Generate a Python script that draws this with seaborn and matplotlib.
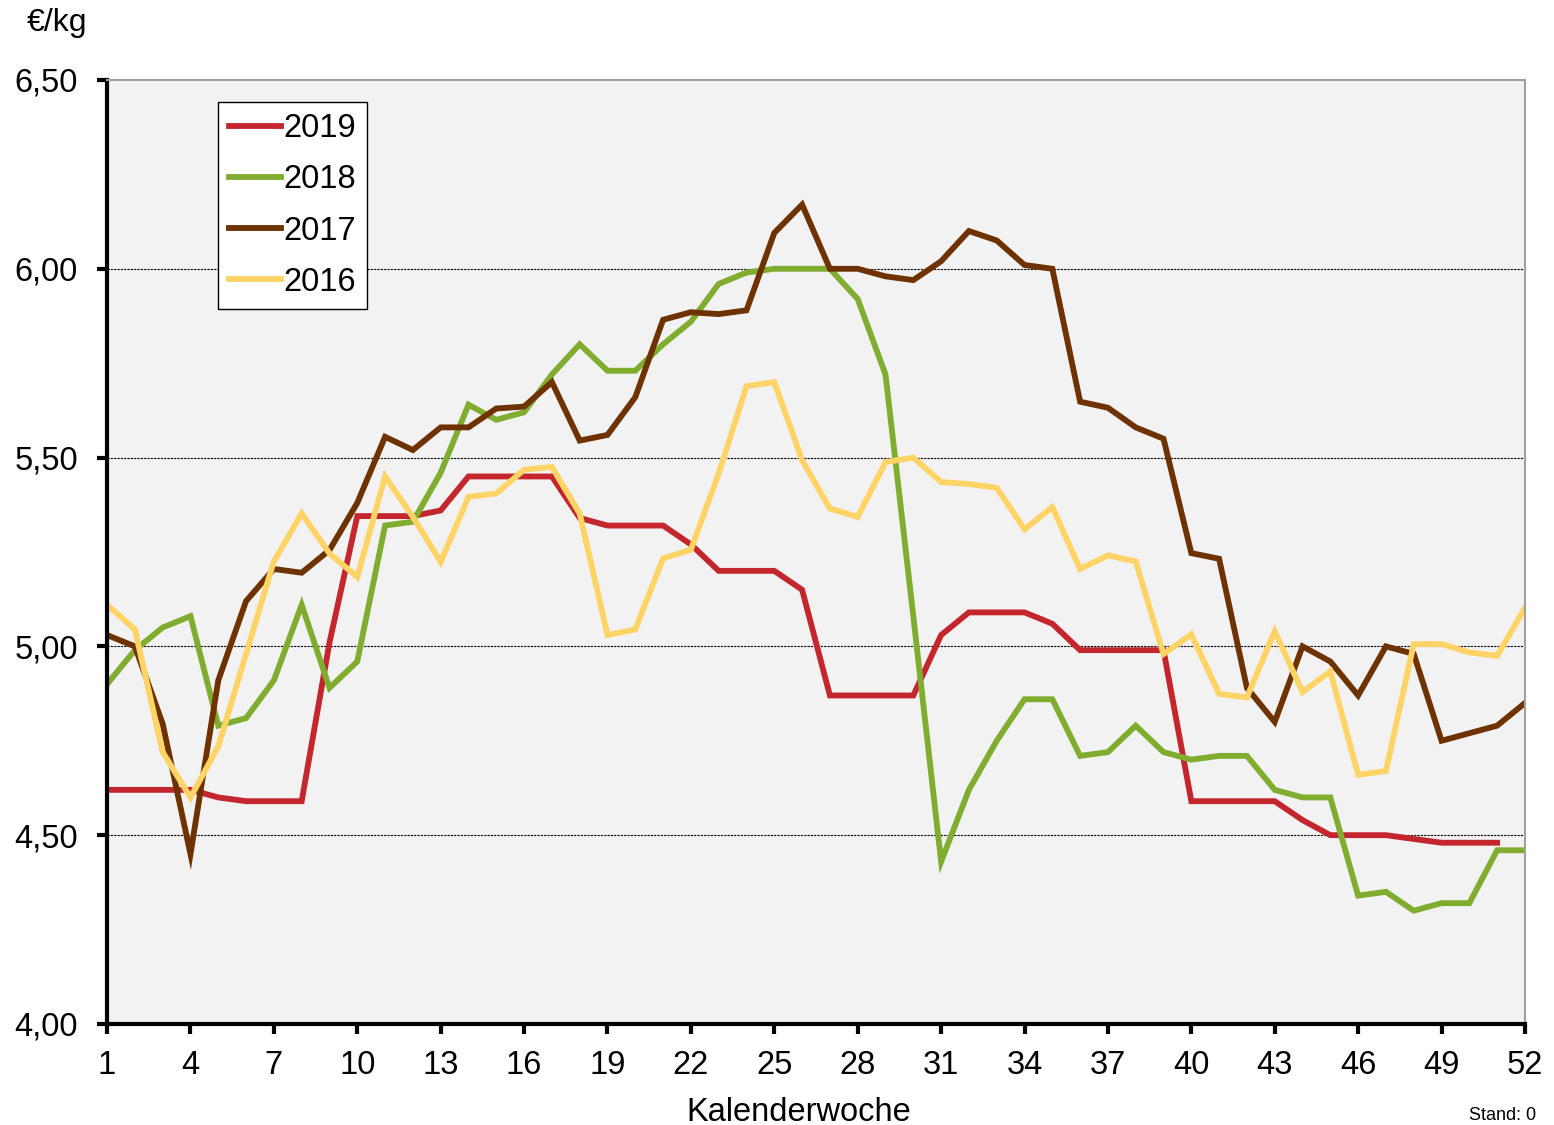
import numpy as np
import pandas as pd
import matplotlib
matplotlib.use("Agg")
import matplotlib.pyplot as plt
from matplotlib.ticker import FuncFormatter
import seaborn as sns

# weekly prices in EUR/kg
weeks = list(range(1, 53))

y2019 = [4.62, 4.62, 4.62, 4.62, 4.60, 4.59, 4.59, 4.59, 5.01, 5.345,
         5.345, 5.345, 5.36, 5.45, 5.45, 5.45, 5.45, 5.34, 5.32, 5.32,
         5.32, 5.27, 5.20, 5.20, 5.20, 5.15, 4.87, 4.87, 4.87, 4.87,
         5.03, 5.09, 5.09, 5.09, 5.06, 4.99, 4.99, 4.99, 4.99, 4.59,
         4.59, 4.59, 4.59, 4.54, 4.50, 4.50, 4.50, 4.49, 4.48, 4.48,
         4.48, np.nan]

y2018 = [4.90, 4.99, 5.05, 5.08, 4.79, 4.81, 4.91, 5.11, 4.89, 4.96,
         5.32, 5.33, 5.46, 5.64, 5.60, 5.62, 5.72, 5.80, 5.73, 5.73,
         5.80, 5.86, 5.96, 5.99, 6.00, 6.00, 6.00, 5.92, 5.72, 5.08,
         4.43, 4.62, 4.75, 4.86, 4.86, 4.71, 4.72, 4.79, 4.72, 4.70,
         4.71, 4.71, 4.62, 4.60, 4.60, 4.34, 4.35, 4.30, 4.32, 4.32,
         4.46, 4.46]

y2017 = [5.03, 5.00, 4.795, 4.45, 4.91, 5.12, 5.205, 5.195, 5.255, 5.38,
         5.555, 5.52, 5.58, 5.58, 5.63, 5.635, 5.70, 5.545, 5.56, 5.66,
         5.865, 5.885, 5.88, 5.89, 6.095, 6.17, 6.00, 6.00, 5.98, 5.97,
         6.02, 6.10, 6.075, 6.01, 6.00, 5.648, 5.632, 5.58, 5.55, 5.247,
         5.232, 4.89, 4.80, 5.00, 4.96, 4.87, 5.00, 4.98, 4.75, 4.77,
         4.79, 4.85]

y2016 = [5.11, 5.045, 4.72, 4.60, 4.735, 4.98, 5.225, 5.352, 5.246, 5.184,
         5.45, 5.343, 5.224, 5.396, 5.405, 5.468, 5.475, 5.352, 5.03, 5.045,
         5.233, 5.256, 5.458, 5.689, 5.70, 5.493, 5.365, 5.343, 5.488, 5.50,
         5.435, 5.43, 5.42, 5.31, 5.369, 5.205, 5.241, 5.225, 4.98, 5.032,
         4.874, 4.865, 5.04, 4.879, 4.934, 4.66, 4.67, 5.006, 5.006, 4.984,
         4.975, 5.102]

years = ["2019", "2018", "2017", "2016"]
colors = {"2019": "#c4262e", "2018": "#80ad2f", "2017": "#6e3200", "2016": "#ffd466"}

df = pd.DataFrame({
    "week": weeks * 4,
    "price": y2019 + y2018 + y2017 + y2016,
    "year": [y for y in years for _ in weeks],
})

fig = plt.figure(figsize=(15.54, 11.25), dpi=100)
ax = fig.add_axes([0.0689, 0.0898, 0.9124, 0.8391])
ax.set_facecolor("#f2f2f2")

sns.lineplot(data=df, x="week", y="price", hue="year", hue_order=years,
             palette=colors, linewidth=4.2, ax=ax, sort=False,
             solid_joinstyle="miter")

ax.set_xlim(1, 52)
ax.set_ylim(4.0, 6.5)
ax.set_xticks(list(range(1, 53, 3)))
ax.set_yticks([4.0, 4.5, 5.0, 5.5, 6.0, 6.5])
ax.yaxis.set_major_formatter(FuncFormatter(lambda v, p: f"{v:.2f}".replace(".", ",")))

for v in [4.5, 5.0, 5.5, 6.0]:
    ax.axhline(v, color="black", linewidth=0.8, linestyle=(0, (2, 1)), zorder=0.5)

for side in ["left", "bottom"]:
    ax.spines[side].set_color("black")
    ax.spines[side].set_linewidth(3)
for side in ["top", "right"]:
    ax.spines[side].set_color("#a0a0a0")
    ax.spines[side].set_linewidth(1.5)

ax.tick_params(axis="both", direction="out", length=7, width=3, color="black",
               labelsize=23.5)
ax.tick_params(axis="y", pad=14)
ax.tick_params(axis="x", pad=12)
for lab in ax.get_xticklabels() + ax.get_yticklabels():
    lab.set_fontfamily("Liberation Sans")

ax.set_xlabel("Kalenderwoche", fontsize=23.5, family="Liberation Sans")
ax.xaxis.set_label_coords(0.488, -0.077)
ax.set_ylabel("")
fig.text(0.017, 0.993, "€/kg", fontsize=23, family="Liberation Sans", va="top")
fig.text(0.945, 0.001, "Stand: 0", fontsize=13, family="Liberation Sans", va="bottom")

leg = ax.legend(title=None, loc="upper left", bbox_to_anchor=(0.078, 0.977),
                fontsize=23.5, frameon=True, fancybox=False, handlelength=1.6,
                handletextpad=0.05, borderpad=0.35, labelspacing=0.62,
                borderaxespad=0)
leg.get_frame().set_edgecolor("black")
leg.get_frame().set_linewidth(1.0)
leg.get_frame().set_facecolor("white")
leg.get_frame().set_alpha(1)
for t in leg.get_texts():
    t.set_fontfamily("Liberation Sans")

fig.savefig("out.png", dpi=100)
